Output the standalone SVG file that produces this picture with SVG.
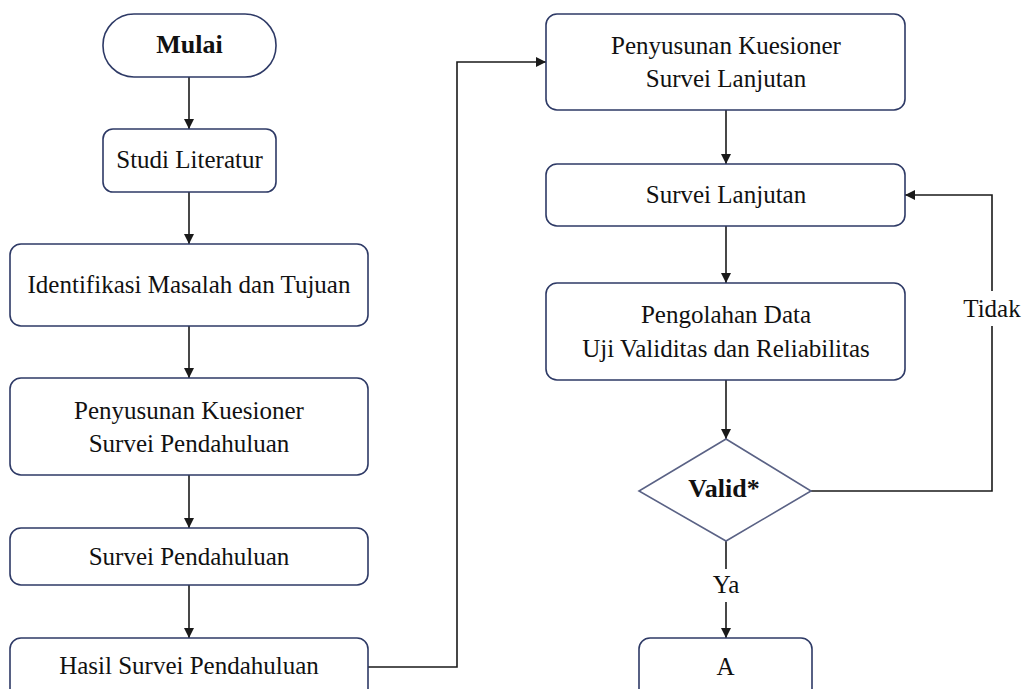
<svg xmlns="http://www.w3.org/2000/svg" width="1027" height="689" viewBox="0 0 1027 689">
<style>
.box{fill:#fff;stroke:#2e3a66;stroke-width:1.6}
.dia{fill:#fff;stroke:#5a6285;stroke-width:1.6}
.t{font-family:"Liberation Serif","Times New Roman",serif;font-size:25px;fill:#111;text-anchor:middle}
.b{font-weight:bold;font-size:26px}
.c{fill:none;stroke:#1a1a1a;stroke-width:1.6}
.lbl{fill:#fff;stroke:none}
</style>
<defs>
<marker id="ah" viewBox="0 0 10 10" refX="10" refY="5" markerWidth="10" markerHeight="10" markerUnits="userSpaceOnUse" orient="auto">
<path d="M0,0 L10,5 L0,10 Z" fill="#1a1a1a"/>
</marker>
</defs>
<rect width="1027" height="689" fill="#fff"/>
<g id="connectors">
<path class="c" d="M189,77 V129" marker-end="url(#ah)"/>
<path class="c" d="M189,192 V244" marker-end="url(#ah)"/>
<path class="c" d="M189,326 V378" marker-end="url(#ah)"/>
<path class="c" d="M189,475 V528" marker-end="url(#ah)"/>
<path class="c" d="M189,585 V638" marker-end="url(#ah)"/>
<path class="c" d="M368,667 H457 V62 H546" marker-end="url(#ah)"/>
<path class="c" d="M726,110 V164" marker-end="url(#ah)"/>
<path class="c" d="M726,226 V283" marker-end="url(#ah)"/>
<path class="c" d="M726,380 V439" marker-end="url(#ah)"/>
<path class="c" d="M726,541 V638" marker-end="url(#ah)"/>
<path class="c" d="M811,491 H992 V195 H905" marker-end="url(#ah)"/>
<rect class="lbl" x="705" y="569" width="42" height="33"/>
<text class="t" x="726" y="593">Ya</text>
<rect class="lbl" x="962" y="291" width="60" height="35"/>
<text class="t" x="992" y="317">Tidak</text>
</g>
<g id="mulai">
<rect class="box" x="103" y="14" width="173" height="63" rx="31" ry="31"/>
<text class="t b" x="189.5" y="53">Mulai</text>
</g>
<g id="studi-literatur">
<rect class="box" x="103" y="129" width="173" height="63" rx="10"/>
<text class="t" x="189.5" y="168">Studi Literatur</text>
</g>
<g id="identifikasi">
<rect class="box" x="10" y="244" width="358" height="82" rx="11"/>
<text class="t" x="189" y="293">Identifikasi Masalah dan Tujuan</text>
</g>
<g id="penyusunan-pendahuluan">
<rect class="box" x="10" y="378" width="358" height="97" rx="11"/>
<text class="t" x="189" y="419">Penyusunan Kuesioner</text>
<text class="t" x="189" y="452">Survei Pendahuluan</text>
</g>
<g id="survei-pendahuluan">
<rect class="box" x="10" y="528" width="358" height="57" rx="11"/>
<text class="t" x="189" y="565">Survei Pendahuluan</text>
</g>
<g id="hasil-survei">
<rect class="box" x="10" y="638" width="358" height="70" rx="11"/>
<text class="t" x="189" y="674">Hasil Survei Pendahuluan</text>
</g>
<g id="penyusunan-lanjutan">
<rect class="box" x="546" y="14" width="359" height="96" rx="11"/>
<text class="t" x="726" y="54">Penyusunan Kuesioner</text>
<text class="t" x="726" y="87">Survei Lanjutan</text>
</g>
<g id="survei-lanjutan">
<rect class="box" x="546" y="164" width="359" height="62" rx="11"/>
<text class="t" x="726" y="203">Survei Lanjutan</text>
</g>
<g id="pengolahan">
<rect class="box" x="546" y="283" width="359" height="97" rx="11"/>
<text class="t" x="726" y="323">Pengolahan Data</text>
<text class="t" x="726" y="357">Uji Validitas dan Reliabilitas</text>
</g>
<g id="valid">
<polygon class="dia" points="726,439 811,491 726,541 639,491"/>
<text class="t b" x="724" y="497">Valid*</text>
</g>
<g id="a">
<rect class="box" x="639" y="638" width="173" height="70" rx="11"/>
<text class="t" x="725.5" y="675">A</text>
</g>
</svg>
